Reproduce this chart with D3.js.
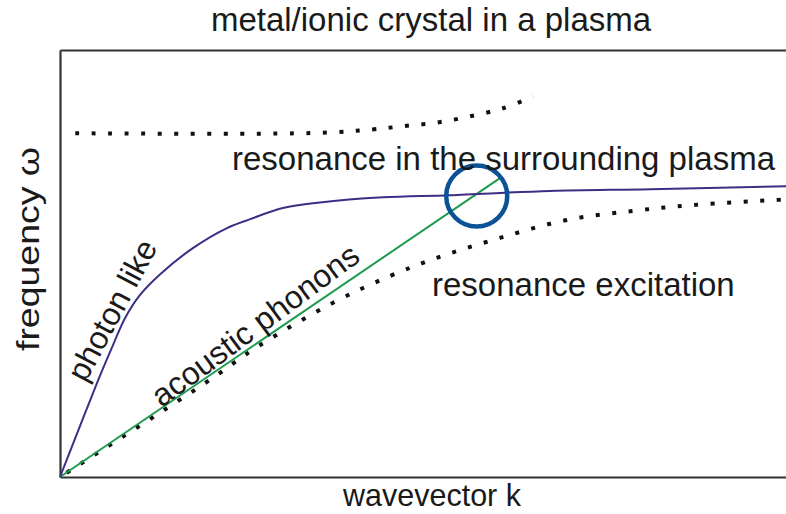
<!DOCTYPE html>
<html>
<head>
<meta charset="utf-8">
<script src="https://cdn.jsdelivr.net/npm/d3@7/dist/d3.min.js"></script>
<style>
  body { margin: 0; background: #fff; }
  text { font-family: "Liberation Sans", Arial, Helvetica, sans-serif; fill: #1a1a1a; }
  .axis path { stroke: #333; stroke-width: 2.2; }
</style>
</head>
<body>
<svg id="chart" width="786" height="514"></svg>
<script>
// curves, in (k, omega) units, 0..100 on both axes
const photonLike = [
  [0, 0], [2.75, 11.9], [5.5, 23.7], [7.3, 30.9], [8.95, 37.2], [11.0, 42.6],
  [13.8, 47.5], [18.3, 53.6], [23.0, 58.3], [26.2, 60.4], [30.7, 63.0],
  [35.8, 64.3], [44.5, 65.5], [53.7, 66.0], [67.5, 67.0], [81.3, 67.4], [100, 68.1]
];
const acousticPhonons = [[0, 0], [60.6, 70.0]];
const resonanceExcitation = [
  [0, 0], [20.0, 22.0], [27.1, 30.4], [37.5, 40.7], [45.5, 47.1], [51.9, 51.3],
  [60.6, 56.0], [69.8, 60.2], [78.9, 62.3], [87.2, 63.7], [98.8, 64.9], [100, 65.0]
];
const plasmaResonance = [
  [2.1, 80.5], [35.8, 80.6], [43.0, 81.4], [47.5, 82.2], [51.9, 83.0],
  [56.3, 84.4], [60.9, 86.3], [65.2, 89.1]
];
const crossing = [57.4, 65.8];

const svg = d3.select("#chart");
const x = d3.scaleLinear().domain([0, 100]).range([60, 786]);
const y = d3.scaleLinear().domain([0, 100]).range([477, 50]);

// frame (axes with no ticks)
svg.append("g").attr("class", "axis").attr("transform", `translate(0,${y(0)})`)
  .call(d3.axisBottom(x).tickValues([]).tickSizeOuter(0));
svg.append("g").attr("class", "axis").attr("transform", `translate(0,${y(100)})`)
  .call(d3.axisTop(x).tickValues([]).tickSizeOuter(0));
svg.append("g").attr("class", "axis").attr("transform", `translate(${x(0)},0)`)
  .call(d3.axisLeft(y).tickValues([]).tickSizeOuter(0));

const line = d3.line().x(d => x(d[0])).y(d => y(d[1])).curve(d3.curveCatmullRom.alpha(0.5));

svg.append("path").datum(plasmaResonance).attr("d", line)
  .attr("fill", "none").attr("stroke", "#111").attr("stroke-width", 4)
  .attr("stroke-dasharray", "4 12.5");

svg.append("path").datum(resonanceExcitation).attr("d", line)
  .attr("fill", "none").attr("stroke", "#111").attr("stroke-width", 4)
  .attr("stroke-dasharray", "4 12.5").attr("stroke-dashoffset", -8);

svg.append("path").datum(acousticPhonons).attr("d", line)
  .attr("fill", "none").attr("stroke", "#1e9a4e").attr("stroke-width", 2);

svg.append("path").datum(photonLike).attr("d", line)
  .attr("fill", "none").attr("stroke", "#3f2d85").attr("stroke-width", 2);

svg.append("circle").attr("cx", x(crossing[0])).attr("cy", y(crossing[1])).attr("r", 30.5)
  .attr("fill", "none").attr("stroke", "#0b5296").attr("stroke-width", 4.5);

// labels
svg.append("text").attr("x", 431).attr("y", 31).attr("text-anchor", "middle")
  .attr("font-size", 33).text("metal/ionic crystal in a plasma");
svg.append("text").attr("x", 232).attr("y", 170)
  .attr("font-size", 33).text("resonance in the surrounding plasma");
svg.append("text").attr("x", 432).attr("y", 296)
  .attr("font-size", 33).text("resonance excitation");
svg.append("text").attr("x", 432).attr("y", 506).attr("text-anchor", "middle")
  .attr("font-size", 30.5).text("wavevector k");
svg.append("text").attr("transform", "translate(39,249) rotate(-90)").attr("text-anchor", "middle")
  .attr("font-size", 32).attr("textLength", 204).attr("lengthAdjust", "spacingAndGlyphs")
  .text("frequency ω");
svg.append("text").attr("transform", "translate(112,310) rotate(-62)").attr("text-anchor", "middle")
  .attr("dy", "0.35em").attr("font-size", 32).text("photon like");
svg.append("text").attr("transform", "translate(255,325) rotate(-36.5)").attr("text-anchor", "middle")
  .attr("dy", "0.35em").attr("font-size", 32).text("acoustic phonons");
</script>
</body>
</html>
